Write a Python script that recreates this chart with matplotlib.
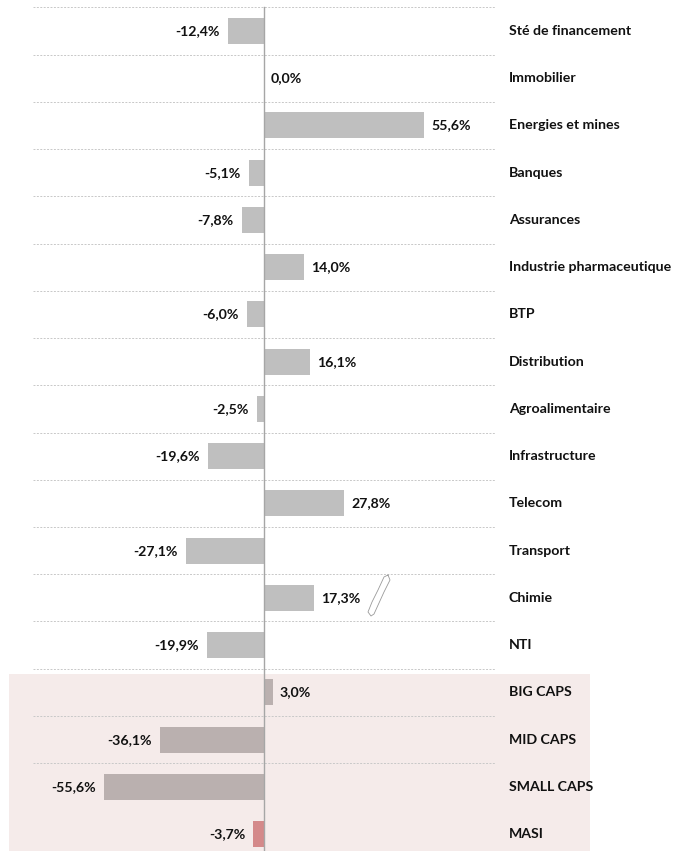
import matplotlib
matplotlib.use("Agg")
import matplotlib.pyplot as plt
from matplotlib.patches import Rectangle

# ─────────────────────────────────────────
# DATA
# ─────────────────────────────────────────
categories = ["Sté de financement", "Immobilier", "Energies et mines", "Banques",
              "Assurances", "Industrie pharmaceutique", "BTP", "Distribution",
              "Agroalimentaire", "Infrastructure", "Telecom", "Transport",
              "Chimie", "NTI", "BIG CAPS", "MID CAPS", "SMALL CAPS", "MASI"]
values = [-12.4, 0.0, 55.6, -5.1, -7.8, 14.0, -6.0, 16.1, -2.5, -19.6,
          27.8, -27.1, 17.3, -19.9, 3.0, -36.1, -55.6, -3.7]
value_labels = ["-12,4%", "0,0%", "55,6%", "-5,1%", "-7,8%", "14,0%", "-6,0%",
                "16,1%", "-2,5%", "-19,6%", "27,8%", "-27,1%", "17,3%",
                "-19,9%", "3,0%", "-36,1%", "-55,6%", "-3,7%"]

SECTOR_COLOR = "#BFBFBF"
CAPS_COLOR   = "#BAB0AF"
MASI_COLOR   = "#D4898A"
BG_PINK      = "#F5EBEA"

plt.rcParams["font.family"] = ["Lato", "DejaVu Sans"]

fig = plt.figure(figsize=(6.74, 8.51), dpi=100)
ax = fig.add_axes([0, 0, 1, 1])

n = len(categories)
px_per_unit = 2.878
zero_px = 264
ax.set_xlim(-zero_px / px_per_unit, (674 - zero_px) / px_per_unit)
row_px = 47.24
ax.set_ylim((851 - 31) / row_px, -31 / row_px)
ax.axis("off")

# pink band behind the cap indices
ax.add_patch(Rectangle((-88.6, 13.61), 88.6 + 113.3, 10, color=BG_PINK, zorder=0, lw=0))

# dashed separators between rows
for i in range(n - 1):
    ax.plot([-80.3, 80.3], [i - 0.5, i - 0.5], color="#C8C8C8", lw=0.7,
            ls=(0, (2, 1.5)), zorder=1)

colors = [SECTOR_COLOR] * 14 + [CAPS_COLOR] * 3 + [MASI_COLOR]
ax.barh(range(n), values, height=0.55, color=colors, zorder=2)

# zero axis line
ax.plot([0, 0], [-0.5, n + 1], color="#A6A6A6", lw=1.0, zorder=3)

FS = 10.2
for i, (v, lab, cat) in enumerate(zip(values, value_labels, categories)):
    if v < 0:
        ax.annotate(lab, (v, i), xytext=(-6, 0), textcoords="offset points",
                    ha="right", va="center", fontsize=FS, fontweight="bold",
                    color="#111111", zorder=4)
    else:
        ax.annotate(lab, (v, i), xytext=(5, 0), textcoords="offset points",
                    ha="left", va="center", fontsize=FS, fontweight="bold",
                    color="#111111", zorder=4)
    ax.text(85.1, i, cat, ha="left", va="center", fontsize=FS,
            fontweight="bold", color="#111111", zorder=4)

# small stray outline near Chimie (as in source)
sx = [388, 384, 378, 372, 368, 371, 374, 379, 384, 390, 388]
sy = [575, 577, 590, 602, 612, 616, 614, 603, 592, 580, 575]
ax.plot([(x - zero_px) / px_per_unit for x in sx],
        [(y - 31) / row_px for y in sy],
        color="#9A9A9A", lw=0.6, zorder=4)

fig.savefig("out.png", dpi=100)
